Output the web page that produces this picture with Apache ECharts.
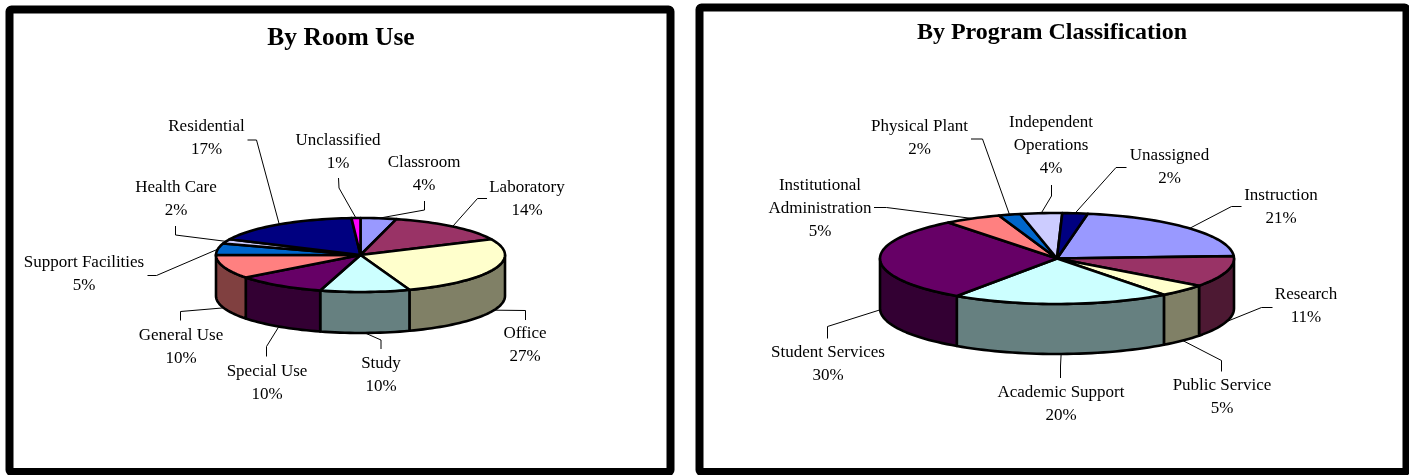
<!DOCTYPE html>
<html>
<head>
<meta charset="utf-8">
<style>
html, body { margin: 0; padding: 0; background: #fff; }
#main { width: 1409px; height: 475px; }
</style>
<script src="https://cdn.jsdelivr.net/npm/echarts@6/dist/echarts.min.js"></script>
</head>
<body>
<div id="main"></div>
<script>
"use strict";
// data, clockwise
const roomNames = ['Classroom', 'Laboratory', 'Office', 'Study', 'Special Use', 'General Use', 'Support Facilities', 'Health Care', 'Residential', 'Unclassified'];
const roomValues = [4, 14, 26.5, 10, 10.1, 10.4, 5, 2, 17, 1];
const programNames = ['Instruction', 'Research', 'Public Service', 'Academic Support', 'Student Services', 'Institutional\nAdministration', 'Physical Plant', 'Independent\nOperations', 'Unassigned'];
const programValues = [21.4, 11, 4.5, 19.9, 29.9, 5.2, 2, 3.8, 2.3];
const titles = ['By Room Use', 'By Program Classification'];
const palette = ['#9999FF', '#993366', '#FFFFCC', '#CCFFFF', '#660066', '#FF8080', '#0066CC', '#CCCCFF', '#000080', '#FF00FF'];
const wallPalette = ['#4D4D80', '#4D1933', '#808066', '#668080', '#330033', '#804040', '#003366', '#666680', '#000040', '#800080'];

// label centre x, first line centre y, then the two leader points nearest the label
const roomLabelSpots = [
    [424, 163, 424.5, 201, 424.5, 210],
    [527, 188, 487, 198.5, 477.5, 198.5],
    [525, 334, 525.5, 320, 525.5, 310.5],
    [381, 364, 381, 349, 381, 340],
    [267, 372, 266.5, 356.5, 266.5, 346.5],
    [181, 336, 180.5, 320.5, 180.5, 311.5],
    [84, 263, 147.5, 275.5, 156.5, 275.5],
    [176, 188, 175.5, 226, 175.5, 235],
    [206.5, 127, 247.5, 140, 256.5, 140],
    [338, 141, 338.5, 178, 339, 188]
];
const programLabelSpots = [
    [1281, 196, 1241.5, 206.5, 1231.5, 206.5],
    [1306, 295, 1272.5, 307.5, 1261.5, 307.5],
    [1222, 386, 1221.5, 371.5, 1221.5, 360.5],
    [1061, 393, 1060.5, 378, 1060.5, 366],
    [828, 353, 827.5, 338.5, 827.5, 326.5],
    [820, 185.5, 874, 207.5, 886.5, 207.5],
    [919.5, 127, 971, 139, 982.5, 139],
    [1051, 123, 1051.5, 185, 1051.5, 196],
    [1169.5, 156, 1126.5, 167.5, 1116, 167.5]
];

const labelFont = '17px "Liberation Serif"';
const lineGap = 23;
const rimWidth = 2.6;
let myChart = echarts.init(document.getElementById('main'));

// angles in degrees, clockwise from the top of the pie
function sliceAngles(values, startAngle) {
    let total = values.reduce((a, b) => a + b, 0);
    let start = startAngle;
    return values.map(function (v, i) {
        let end = start + v / total * 360;
        let row = [start, end, i];
        start = end;
        return row;
    });
}

function rimPoint(api, deg) {
    let r = deg * Math.PI / 180;
    return api.coord([Math.sin(r), Math.cos(r)]);
}

function arcPoints(api, from, to, depth) {
    let pts = [];
    let steps = Math.max(2, Math.ceil((to - from) / 2));
    for (let i = 0; i <= steps; i++) {
        let p = rimPoint(api, from + (to - from) * i / steps);
        pts.push([p[0], p[1] + depth]);
    }
    return pts;
}

function sliceSeries(angles, gridIndex, depth) {
    return {
        type: 'custom',
        coordinateSystem: 'cartesian2d',
        xAxisIndex: gridIndex,
        yAxisIndex: gridIndex,
        silent: true,
        animation: false,
        z: 2,
        data: angles,
        renderItem: function (params, api) {
            let a = api.value(0);
            let b = api.value(1);
            let i = api.value(2);
            let children = [];
            // only the front half of the wall can be seen
            let wallFrom = Math.max(a, 90);
            let wallTo = Math.min(b, 270);
            if (wallTo > wallFrom) {
                let topEdge = arcPoints(api, wallFrom, wallTo, 0);
                let lowEdge = arcPoints(api, wallFrom, wallTo, depth).reverse();
                children.push({
                    type: 'polygon',
                    z2: 1,
                    shape: { points: topEdge.concat(lowEdge) },
                    style: { fill: wallPalette[i], stroke: '#000', lineWidth: rimWidth, lineJoin: 'round' }
                });
            }
            children.push({
                type: 'polygon',
                z2: 2,
                shape: { points: [api.coord([0, 0])].concat(arcPoints(api, a, b, 0)) },
                style: { fill: palette[i], stroke: '#000', lineWidth: rimWidth, lineJoin: 'round' }
            });
            return { type: 'group', children: children };
        }
    };
}

function labelSeries(angles, names, values, spots, gridIndex, depth) {
    return {
        type: 'custom',
        coordinateSystem: 'cartesian2d',
        xAxisIndex: gridIndex,
        yAxisIndex: gridIndex,
        silent: true,
        animation: false,
        z: 1,
        data: angles,
        renderItem: function (params, api) {
            let i = api.value(2);
            let mid = (api.value(0) + api.value(1)) / 2;
            let end = rimPoint(api, mid);
            let norm = mid % 360;
            if (norm > 90 && norm < 270) {
                end = [end[0], end[1] + depth];
            }
            let spot = spots[i];
            return {
                type: 'group',
                children: [{
                    type: 'polyline',
                    shape: { points: [[spot[2], spot[3]], [spot[4], spot[5]], end] },
                    style: { fill: 'none', stroke: '#000', lineWidth: 1 }
                }, {
                    type: 'text',
                    style: {
                        text: names[i] + '\n' + Math.round(values[i]) + '%',
                        x: spot[0],
                        y: spot[1] - lineGap / 2,
                        align: 'center',
                        verticalAlign: 'top',
                        font: labelFont,
                        lineHeight: lineGap,
                        fill: '#000'
                    }
                }]
            };
        }
    };
}

function hiddenAxis(gridIndex) {
    return { type: 'value', gridIndex: gridIndex, min: -1, max: 1, show: false };
}

let roomAngles = sliceAngles(roomValues, 0);
let programAngles = sliceAngles(programValues, 10);

let option = {
    backgroundColor: '#fff',
    animation: false,
    title: [{
        text: titles[0],
        left: 336,
        top: 20.5,
        textAlign: 'center',
        textStyle: { fontFamily: 'Liberation Serif', fontWeight: 'bold', fontSize: 25.5, color: '#000' }
    }, {
        text: titles[1],
        left: 1047,
        top: 16,
        textAlign: 'center',
        textStyle: { fontFamily: 'Liberation Serif', fontWeight: 'bold', fontSize: 24, color: '#000' }
    }],
    grid: [
        { left: 216, top: 218, width: 289, height: 74, show: false },
        { left: 880, top: 213, width: 354, height: 91, show: false }
    ],
    xAxis: [hiddenAxis(0), hiddenAxis(1)],
    yAxis: [hiddenAxis(0), hiddenAxis(1)],
    graphic: [{
        type: 'rect',
        shape: { x: 9.5, y: 9.5, width: 661, height: 462.5, r: 2 },
        style: { fill: 'none', stroke: '#000', lineWidth: 8 }
    }, {
        type: 'rect',
        shape: { x: 699.5, y: 7.5, width: 707, height: 464.5, r: 2 },
        style: { fill: 'none', stroke: '#000', lineWidth: 8 }
    }],
    series: [
        labelSeries(roomAngles, roomNames, roomValues, roomLabelSpots, 0, 41),
        sliceSeries(roomAngles, 0, 41),
        labelSeries(programAngles, programNames, programValues, programLabelSpots, 1, 50),
        sliceSeries(programAngles, 1, 50)
    ]
};
myChart.setOption(option);
</script>
</body>
</html>
